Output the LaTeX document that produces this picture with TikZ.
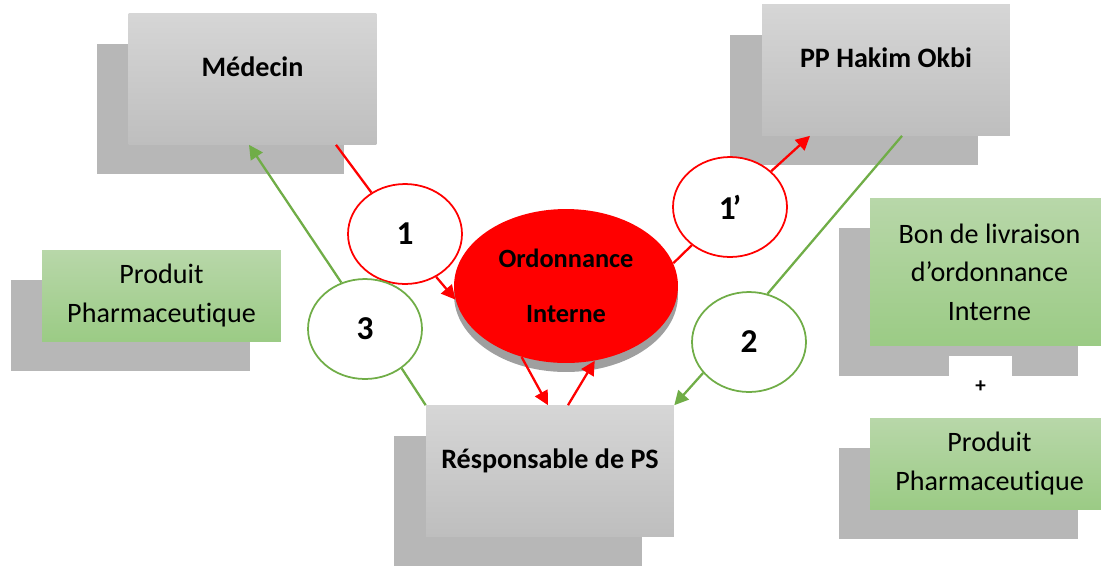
\documentclass[tikz,border=0pt]{standalone}
\usepackage{fontspec}
\setmainfont{Carlito}[Ligatures=NoCommon]
\usepackage{xcolor}
\usepackage{tikz}
\usetikzlibrary{shapes.geometric,shadows,arrows.meta}

\definecolor{boxtop}{HTML}{D6D6D6}
\definecolor{boxbot}{HTML}{BEBEBE}
\definecolor{shade}{HTML}{B7B7B7}
\definecolor{greentop}{HTML}{B8D7A9}
\definecolor{greenbot}{HTML}{9BCB85}
\definecolor{linegreen}{HTML}{70AD47}

\begin{document}
\begin{tikzpicture}[x=0.02cm, y=-0.02cm,
    actor/.style={rectangle, top color=boxtop, bottom color=boxbot,
        minimum width=4.96cm, minimum height=2.62cm, text depth=0.5cm,
        font=\fontsize{16}{19}\selectfont\bfseries,
        general shadow={fill=shade, shadow xshift=-0.64cm, shadow yshift=-0.6cm}},
    doc/.style={rectangle, top color=greentop, bottom color=greenbot,
        minimum width=4.78cm, align=center,
        font=\fontsize{16}{22}\selectfont,
        general shadow={fill=shade, shadow xshift=-0.62cm, shadow yshift=-0.6cm}},
    num/.style={ellipse, fill=white, line width=1pt,
        minimum width=2.28cm, minimum height=2cm,
        font=\fontsize{19}{19}\selectfont\bfseries},
    flowred/.style={red, line width=1.3pt},
    flowgreen/.style={linegreen, line width=1.3pt},
    tip/.style={-{Triangle[length=8pt,width=8pt]}}
    ]
    \useasboundingbox (0,0) rectangle (1101,569);

    % acteurs
    \node[actor] (med) at (252.5,79) {Médecin};
    \node[actor] (pp) at (886,70) {PP Hakim Okbi};
    \node[actor] (resp) at (550,471) {Résponsable de PS};

    % documents
    \node[doc, minimum height=1.82cm] (prodL) at (161.5,295.5) {Produit\\Pharmaceutique};
    \node[doc, minimum height=2.96cm] (bon) at (989.5,272) {Bon de livraison\\d’ordonnance\\Interne};
    \node[fill=white, minimum width=1.26cm, minimum height=1.24cm,
        font=\fontsize{12}{12}\selectfont\bfseries] (plus) at (980.5,387) {+};
    \node[doc, minimum height=1.82cm] (prodR) at (989.5,463.5) {Produit\\Pharmaceutique};

    % ordonnance
    \node[ellipse, fill=red, minimum width=4.48cm, minimum height=3.08cm,
        align=center, font=\fontsize{15}{31}\selectfont\bfseries,
        drop shadow={shadow xshift=0cm, shadow yshift=-0.18cm, fill=gray!75, opacity=1}]
        (oi) at (566,286) {Ordonnance\\Interne};

    % etapes
    \node[num, draw=red] (c1) at (405,234) {1};
    \node[num, draw=red] (c1p) at (730,207) {1\kern-0.1em’};
    \node[num, draw=linegreen] (c2) at (749,342) {2};
    \node[num, draw=linegreen] (c3) at (365,329) {3};

    \draw[flowred] ([xshift=1.67cm]med.south) -- (c1.129);
    \draw[flowred, tip] (c1.-54) -- (oi.187);
    \draw[flowred] (oi.12) -- (c1p.225);
    \draw[flowred, tip] (c1p.41) -- ([xshift=-1.52cm]pp.south);
    \draw[flowgreen] ([xshift=0.32cm]pp.south) -- (c2.69);
    \draw[flowgreen, tip] (c2.214) -- (resp.north east);
    \draw[flowgreen] (resp.north west) -- (c3.-47);
    \draw[flowgreen, tip] (c3.117) -- ([xshift=-0.07cm]med.south);
    \draw[flowred, tip] (oi.-122) -- ([xshift=-0.04cm]resp.north);
    \draw[flowred, tip] ([xshift=0.36cm]resp.north) -- (oi.-69);
\end{tikzpicture}
\end{document}
